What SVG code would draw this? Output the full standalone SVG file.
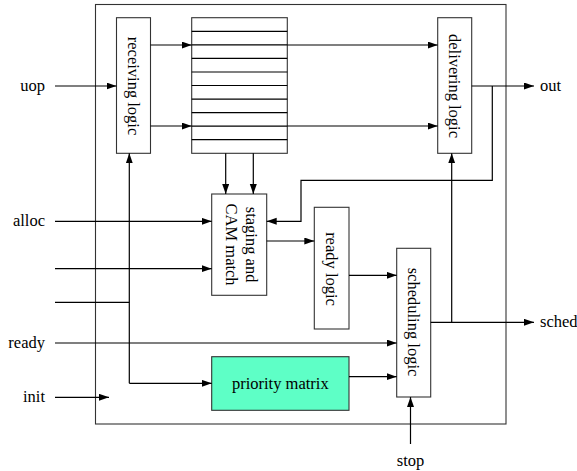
<svg xmlns="http://www.w3.org/2000/svg" width="577" height="471" viewBox="0 0 577 471">
<defs>
<marker id="ah" markerUnits="userSpaceOnUse" markerWidth="11" markerHeight="8" refX="10" refY="3.5" orient="auto">
<path d="M0,0 L10,3.5 L0,7 z" fill="#000"/>
</marker>
<style>
.box{fill:#fff;stroke:#333;stroke-width:1.1}
.ln{fill:none;stroke:#000;stroke-width:1.2}
.c{fill:none;stroke:#000;stroke-width:1.2;marker-end:url(#ah)}
text{font-family:"Liberation Serif","Times New Roman",serif;font-size:16.5px;fill:#000}
.r{text-anchor:end}
.m{text-anchor:middle}
</style>
</defs>
<rect x="0" y="0" width="577" height="471" fill="#fff"/>
<g id="outer"><rect x="95.5" y="4.5" width="410.5" height="419.5" fill="none" stroke="#333" stroke-width="1.1"/></g>
<g id="receiving-logic"><rect class="box" x="116.5" y="17.7" width="34" height="135.6"/>
<text class="m" transform="translate(133.5,86) rotate(90)" dy="5.5">receiving logic</text></g>
<g id="queue"><rect class="box" x="191.7" y="17.7" width="95.6" height="135.6"/>
<path class="ln" d="M191.7,31.3H287.3M191.7,44.8H287.3M191.7,58.4H287.3M191.7,72H287.3M191.7,85.5H287.3M191.7,99.1H287.3M191.7,112.6H287.3M191.7,126.2H287.3M191.7,139.7H287.3" stroke-width="1"/></g>
<g id="delivering-logic"><rect class="box" x="437.7" y="17.7" width="34" height="135.6"/>
<text class="m" transform="translate(454.7,86) rotate(90)" dy="5.5">delivering logic</text></g>
<g id="staging"><rect class="box" x="211.7" y="194" width="55" height="101.3"/>
<text class="m" transform="translate(239.2,244.6) rotate(90)"><tspan x="0" dy="-7">staging and</tspan><tspan x="0" dy="20">CAM match</tspan></text></g>
<g id="ready-logic"><rect class="box" x="314.3" y="207.3" width="34.7" height="121.7"/>
<text class="m" transform="translate(331.6,269) rotate(90)" dy="5.5">ready logic</text></g>
<g id="scheduling-logic"><rect class="box" x="396.7" y="248.3" width="34" height="148.7"/>
<text class="m" transform="translate(413.7,322) rotate(90)" dy="5.5">scheduling logic</text></g>
<g id="priority-matrix"><rect x="211.7" y="356.7" width="137.3" height="53.6" fill="#5effc6" stroke="#333" stroke-width="1.1"/>
<text class="m" x="280.3" y="389">priority matrix</text></g>
<g id="labels">
<text class="r" x="45" y="91">uop</text>
<text class="r" x="45" y="226">alloc</text>
<text class="r" x="45" y="348">ready</text>
<text class="r" x="45" y="402">init</text>
<text x="540" y="91">out</text>
<text x="540" y="327">sched</text>
<text class="m" x="410.5" y="466">stop</text>
</g>
<g id="connectors">
<path class="c" d="M55,86H116.5"/>
<path class="c" d="M150.5,45H191.7"/>
<path class="c" d="M150.5,126H191.7"/>
<path class="c" d="M287.3,45H437.7"/>
<path class="c" d="M287.3,126H437.7"/>
<path class="c" d="M471.7,86H534"/>
<path class="c" d="M492.3,86V180.3H301V221.3H266.7"/>
<path class="c" d="M225.7,153.3V194"/>
<path class="c" d="M253.3,153.3V194"/>
<path class="c" d="M55,221.3H211.7"/>
<path class="c" d="M55,268.7H211.7"/>
<path class="ln" d="M55,302.3H129.3"/>
<path class="c" d="M129.3,383.3V153.3"/>
<path class="c" d="M129.3,383.3H211.7"/>
<path class="c" d="M55,343H396.7"/>
<path class="c" d="M55,397.3H109"/>
<path class="c" d="M266.7,241H314.3"/>
<path class="c" d="M349,275.3H396.7"/>
<path class="c" d="M349,376.7H396.7"/>
<path class="c" d="M430.7,322.3H534"/>
<path class="c" d="M451.7,322.3V153.3"/>
<path class="c" d="M410.5,444V397"/>
</g>
</svg>
